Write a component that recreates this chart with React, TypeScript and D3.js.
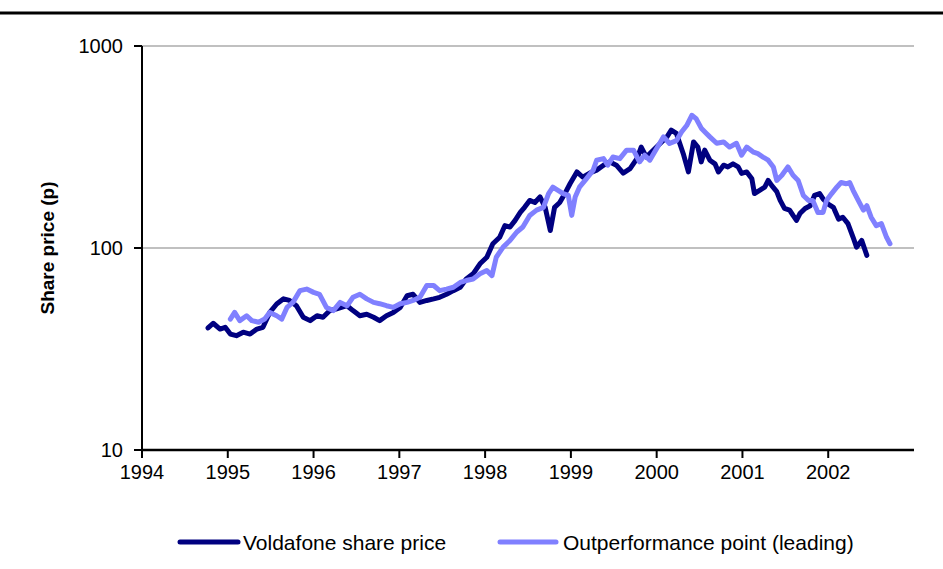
import React from "react";
import * as d3 from "d3";

const yearTicks = [1994, 1995, 1996, 1997, 1998, 1999, 2000, 2001, 2002];
const yTicks = [10, 100, 1000];

const vodafoneDates = [
  1994.77, 1994.83, 1994.91, 1994.97, 1995.03, 1995.10, 1995.18, 1995.26, 1995.34, 1995.41,
  1995.49, 1995.57, 1995.65, 1995.72, 1995.80, 1995.88, 1995.96, 1996.04, 1996.11, 1996.19,
  1996.27, 1996.39, 1996.46, 1996.54, 1996.62, 1996.70, 1996.77, 1996.85, 1996.93, 1997.01,
  1997.09, 1997.16, 1997.24, 1997.32, 1997.40, 1997.47, 1997.55, 1997.63, 1997.71, 1997.78,
  1997.86, 1997.94, 1998.02, 1998.09, 1998.17, 1998.23, 1998.29, 1998.35, 1998.41, 1998.46,
  1998.52, 1998.58, 1998.64, 1998.70, 1998.76, 1998.81, 1998.87, 1998.93, 1998.99, 1999.07,
  1999.14, 1999.22, 1999.30, 1999.38, 1999.45, 1999.53, 1999.61, 1999.69, 1999.77, 1999.82,
  1999.88, 1999.96, 2000.04, 2000.12, 2000.17, 2000.23, 2000.31, 2000.37, 2000.43, 2000.48,
  2000.52, 2000.56, 2000.62, 2000.68, 2000.72, 2000.78, 2000.83, 2000.89, 2000.95, 2000.99,
  2001.05, 2001.11, 2001.14, 2001.20, 2001.26, 2001.30, 2001.34, 2001.40, 2001.44, 2001.49,
  2001.55, 2001.59, 2001.63, 2001.67, 2001.73, 2001.79, 2001.84, 2001.90, 2001.94, 2002.00,
  2002.06, 2002.12, 2002.17, 2002.23, 2002.29, 2002.33, 2002.39, 2002.45,
];
const vodafoneValues = [
  40.2, 42.4, 39.7, 40.5, 37.5, 36.8, 38.3, 37.5, 39.7, 40.5,
  48, 52.8, 56, 55, 51.8, 45.4, 43.7, 46.2, 45.4, 49,
  50, 51.8, 49, 46.2, 47, 45.4, 43.7, 46.2, 48, 50.8,
  58, 59, 53.8, 55, 56, 57, 59, 61.5, 63.9, 70.2,
  74.5, 83.5, 90, 105, 113, 129, 127, 137, 150, 159,
  172, 168, 179, 159, 122, 159, 168, 186, 208, 238,
  224, 235, 243, 257, 267, 257, 235, 247, 277, 316,
  282, 305, 329, 355, 383, 369, 293, 238, 335, 316,
  267, 305, 272, 261, 238, 257, 252, 261, 252, 234,
  238, 220, 186, 193, 200, 216, 204, 190, 172, 157,
  154, 145, 137, 148, 157, 162, 182, 186, 175, 165,
  159, 139, 142, 132, 113, 101, 109, 92,
];

const outperfDates = [
  1995.03, 1995.08, 1995.14, 1995.22, 1995.28, 1995.36, 1995.43, 1995.49, 1995.57, 1995.63,
  1995.69, 1995.76, 1995.84, 1995.92, 1996.00, 1996.07, 1996.15, 1996.23, 1996.31, 1996.39,
  1996.46, 1996.54, 1996.62, 1996.70, 1996.77, 1996.85, 1996.93, 1997.01, 1997.09, 1997.16,
  1997.24, 1997.32, 1997.40, 1997.47, 1997.55, 1997.63, 1997.71, 1997.78, 1997.86, 1997.94,
  1998.02, 1998.08, 1998.13, 1998.21, 1998.29, 1998.37, 1998.44, 1998.52, 1998.60, 1998.68,
  1998.74, 1998.79, 1998.85, 1998.91, 1998.97, 1999.01, 1999.05, 1999.10, 1999.18, 1999.26,
  1999.30, 1999.38, 1999.43, 1999.49, 1999.57, 1999.65, 1999.73, 1999.80, 1999.86, 1999.92,
  2000.00, 2000.08, 2000.15, 2000.23, 2000.29, 2000.35, 2000.41, 2000.46, 2000.52, 2000.58,
  2000.62, 2000.70, 2000.78, 2000.85, 2000.93, 2000.99, 2001.05, 2001.13, 2001.18, 2001.24,
  2001.30, 2001.36, 2001.40, 2001.46, 2001.53, 2001.59, 2001.65, 2001.71, 2001.77, 2001.82,
  2001.88, 2001.94, 2001.98, 2002.04, 2002.10, 2002.15, 2002.21, 2002.25, 2002.29, 2002.35,
  2002.41, 2002.45, 2002.50, 2002.56, 2002.62, 2002.68, 2002.72,
];
const outperfValues = [
  44.5, 48, 43.7, 46.2, 43.7, 42.9, 44.5, 48, 46.2, 44.5,
  50.8, 53.8, 61.5, 62.6, 60.3, 59, 50.8, 49, 53.8, 51.8,
  57, 59, 56, 53.8, 53, 51.8, 50.8, 53, 53.8, 55,
  57, 65.2, 65.2, 61.5, 62.6, 63.9, 67.5, 69, 70.2, 74.5,
  77.3, 73, 90, 101, 109, 120, 127, 145, 154, 159,
  186, 200, 193, 186, 182, 145, 179, 200, 220, 243,
  272, 277, 257, 282, 277, 305, 305, 267, 288, 272,
  311, 355, 329, 340, 375, 404, 454, 437, 392, 369,
  355, 330, 335, 316, 330, 288, 316, 298, 293, 282,
  272, 252, 216, 229, 252, 229, 216, 182, 172, 172,
  150, 150, 172, 186, 200, 211, 208, 211, 193, 172,
  154, 162, 142, 129, 132, 113, 105,
];

const seriesNames = ["Voldafone share price", "Outperformance point (leading)"];
const seriesColors = ["#000080", "#8080FF"];

const W = 943;
const H = 569;
const plotLeft = 142;
const plotRight = 914;
const plotTop = 46;
const plotBottom = 450;

export default function App() {
  const x = d3.scaleLinear().domain([1994, 2003]).range([plotLeft, plotRight]);
  const y = d3.scaleLog().domain([10, 1000]).range([plotBottom, plotTop]);

  const line = d3
    .line<[number, number]>()
    .x((d) => x(d[0]))
    .y((d) => y(d[1]));

  const vod: [number, number][] = vodafoneDates.map((d, i) => [d, vodafoneValues[i]]);
  const out: [number, number][] = outperfDates.map((d, i) => [d, outperfValues[i]]);

  const font = "'Liberation Sans', Arial, sans-serif";

  const legendY = 542;
  const legendItems = [
    { x1: 180, x2: 238, tx: 243 },
    { x1: 500, x2: 556, tx: 563 },
  ];

  return (
    <svg
      width={W}
      height={H}
      style={{ position: "absolute", left: 0, top: 0, background: "#fff" }}
      fontFamily={font}
    >
      <rect x={0} y={0} width={W} height={H} fill="#fff" />
      <line x1={0} x2={W} y1={13} y2={13} stroke="#000" strokeWidth={3} />

      {/* gridlines */}
      {yTicks
        .filter((t) => t !== 10)
        .map((t) => (
          <line key={"g" + t} x1={plotLeft} x2={plotRight} y1={y(t)} y2={y(t)} stroke="#c0c0c0" strokeWidth={2} />
        ))}

      {/* y axis */}
      <line x1={plotLeft} x2={plotLeft} y1={plotTop} y2={plotBottom} stroke="#000" strokeWidth={2} />
      {yTicks.map((t) => (
        <g key={"y" + t}>
          <line x1={plotLeft - 8} x2={plotLeft} y1={y(t)} y2={y(t)} stroke="#000" strokeWidth={2} />
          <text x={123} y={y(t)} dy="0.36em" textAnchor="end" fontSize={20} fill="#000">
            {t}
          </text>
        </g>
      ))}

      {/* x axis */}
      <line x1={plotLeft} x2={plotRight} y1={plotBottom} y2={plotBottom} stroke="#000" strokeWidth={2.5} />
      {yearTicks.map((t) => (
        <g key={"x" + t}>
          <line x1={x(t)} x2={x(t)} y1={plotBottom} y2={plotBottom + 8} stroke="#000" strokeWidth={2} />
          <text x={x(t)} y={plotBottom + 29} textAnchor="middle" fontSize={20} fill="#000">
            {t}
          </text>
        </g>
      ))}

      {/* y title */}
      <text
        transform={`translate(54, ${(plotTop + plotBottom) / 2}) rotate(-90)`}
        textAnchor="middle"
        fontSize={19}
        fontWeight="bold"
        fill="#000"
      >
        Share price (p)
      </text>

      {/* series */}
      <path d={line(vod) || ""} fill="none" stroke={seriesColors[0]} strokeWidth={5} strokeLinejoin="round" strokeLinecap="round" />
      <path d={line(out) || ""} fill="none" stroke={seriesColors[1]} strokeWidth={5} strokeLinejoin="round" strokeLinecap="round" />

      {/* legend */}
      {legendItems.map((it, i) => (
        <g key={"l" + i}>
          <line x1={it.x1} x2={it.x2} y1={legendY} y2={legendY} stroke={seriesColors[i]} strokeWidth={5} strokeLinecap="round" />
          <text x={it.tx} y={legendY} dy="0.36em" fontSize={21} fill="#000">
            {seriesNames[i]}
          </text>
        </g>
      ))}
    </svg>
  );
}
